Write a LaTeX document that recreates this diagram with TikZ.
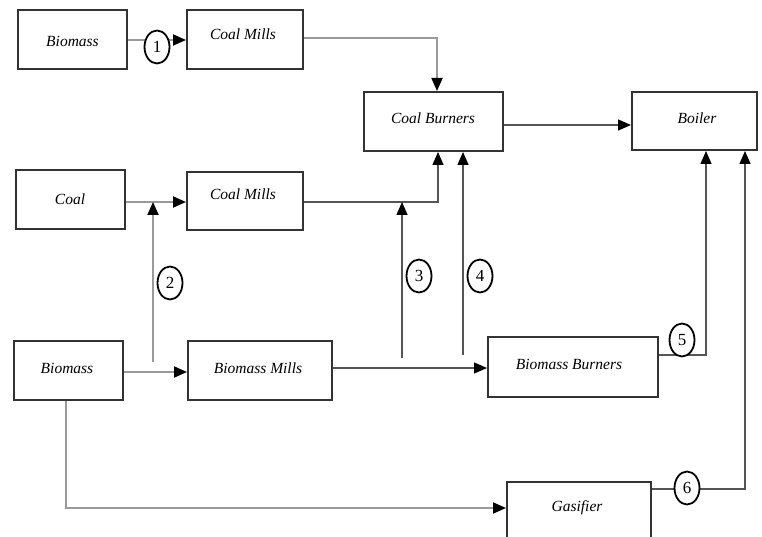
\documentclass[tikz,border=0pt]{standalone}
\usepackage{fontspec}
\setmainfont{Liberation Serif}
\usetikzlibrary{arrows.meta,shapes.geometric}
\definecolor{boxc}{HTML}{333333}
\definecolor{darkln}{HTML}{555555}
\definecolor{lightln}{HTML}{9A9A9A}
\tikzset{
  box/.style={draw=boxc, line width=2pt, fill=white, rectangle, inner sep=0pt},
  lbl/.style={font=\fontsize{15.5}{18}\selectfont\itshape, inner sep=0pt},
  flow/.style={draw=darkln, line width=1.4pt, -{Triangle[length=13pt,width=11pt,color=black]}},
  flowl/.style={draw=lightln, line width=1.8pt, -{Triangle[length=13pt,width=11pt,color=black]}},
  num/.style={draw=black, line width=1.8pt, fill=white, ellipse, minimum width=25pt, minimum height=33pt, inner sep=0pt, font=\fontsize{17}{19}\selectfont}
}
\begin{document}
\begin{tikzpicture}[x=1pt,y=-1pt]
\useasboundingbox (0,0) rectangle (762,537);
\clip (0,0) rectangle (762,537);
% boxes
\node[box, minimum width=109pt, minimum height=59pt] (bio1) at (72.5,39.5) {};
\node[box, minimum width=116pt, minimum height=59pt] (cm1) at (245,39.5) {};
\node[box, minimum width=139pt, minimum height=59pt] (cb) at (433.5,121.5) {};
\node[box, minimum width=125pt, minimum height=58pt] (boiler) at (694.5,121) {};
\node[box, minimum width=109pt, minimum height=59pt] (coal) at (70.5,199.5) {};
\node[box, minimum width=116pt, minimum height=58pt] (cm2) at (245,201) {};
\node[box, minimum width=109pt, minimum height=59pt] (bio2) at (68.5,370.5) {};
\node[box, minimum width=144pt, minimum height=59pt] (bm) at (260,370.5) {};
\node[box, minimum width=170pt, minimum height=60pt] (bb) at (573,367) {};
\node[box, minimum width=144pt, minimum height=80pt] (gas) at (579,522) {};
% labels
\node[lbl] (t1) at (72.5,41) {Biomass};
\node[lbl] (t2) at (243,34) {Coal Mills};
\node[lbl] (t3) at (433,118) {Coal Burners};
\node[lbl] (t4) at (697,118) {Boiler};
\node[lbl] (t5) at (70,199) {Coal};
\node[lbl] (t6) at (243,194) {Coal Mills};
\node[lbl] (t7) at (67,368) {Biomass};
\node[lbl] (t8) at (258,368) {Biomass Mills};
\node[lbl] (t9) at (569,364) {Biomass Burners};
\node[lbl] (t10) at (577,508) {Gasifier};
% junction coordinates
\coordinate (j1) at (437,38);
\coordinate (j2) at (153,202);
\coordinate (j2s) at (153,362);
\coordinate (j3) at (438,202);
\coordinate (j3t) at (402,202);
\coordinate (j3s) at (402,358);
\coordinate (j4s) at (463,355);
\coordinate (j5) at (706,355);
\coordinate (j6) at (745,489);
\coordinate (j7) at (66,508);
% connectors
\draw[flowl] (bio1.east |- 0,40) -- (cm1.west |- 0,40);
\draw[flowl] (cm1.east |- j1) -- (j1) -- (cb.north -| j1);
\draw[flowl] (coal.east |- j2) -- (cm2.west |- j2);
\draw[flowl] (j2s) -- (j2);
\draw[flowl] (bio2.east |- 0,372) -- (bm.west |- 0,372);
\draw[flow] (cm2.east |- j3) -- (j3) -- (cb.south -| j3);
\draw[flow] (j3s) -- (j3t);
\draw[flow] (j4s) -- (cb.south -| j4s);
\draw[flow] (bm.east |- 0,368) -- (bb.west |- 0,368);
\draw[flow] (bb.east |- j5) -- (j5) -- (boiler.south -| j5);
\draw[flow] (gas.east |- j6) -- (j6) -- (boiler.south -| j6);
\draw[flowl] (bio2.south -| j7) -- (j7) -- (gas.west |- j7);
\draw[flow] (cb.east |- 0,125) -- (boiler.west |- 0,125);
% numbered circles
\node[num] (n1) at (157,47) {1};
\node[num] (n2) at (170,283) {2};
\node[num] (n3) at (419,276) {3};
\node[num] (n4) at (480,276) {4};
\node[num] (n5) at (682,340) {5};
\node[num] (n6) at (687,488) {6};
\end{tikzpicture}
\end{document}
